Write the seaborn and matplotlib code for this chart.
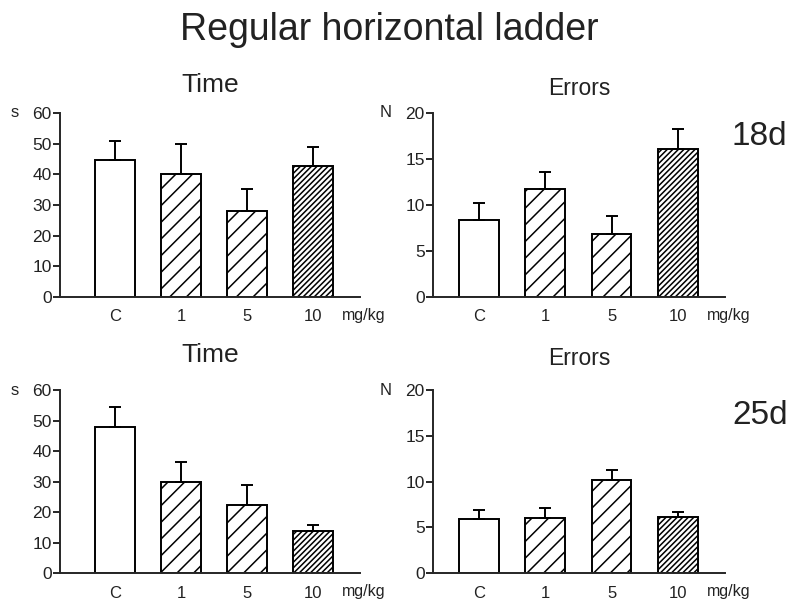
import numpy as np
import pandas as pd
import matplotlib
matplotlib.use("Agg")
import matplotlib.pyplot as plt
import seaborn as sns

# datos
doses = ["C", "1", "5", "10"]
hatches = ["", "//", "//", "//////"]

time_18d = [44.8, 40.0, 28.0, 42.7]
time_18d_sem = [6.2, 9.8, 7.2, 6.1]
errors_18d = [8.4, 11.7, 6.8, 16.1]
errors_18d_sem = [1.8, 1.9, 2.0, 2.2]

time_25d = [48.0, 29.8, 22.4, 13.8]
time_25d_sem = [6.4, 6.6, 6.4, 1.9]
errors_25d = [5.9, 6.0, 10.2, 6.1]
errors_25d_sem = [0.95, 1.1, 1.1, 0.55]

sns.set_style("ticks")
plt.rcParams["font.family"] = ["Liberation Sans", "DejaVu Sans"]
plt.rcParams["hatch.linewidth"] = 1.1
TXT = "#222222"


def plot_panel(ax, means, sems, ymax, step, unit, title, title_size, title_pad, xlim):
    df = pd.DataFrame({"dosis": doses, "valor": means})
    sns.barplot(data=df, x="dosis", y="valor", order=doses, color="white",
                edgecolor="black", linewidth=1.4, width=0.6, saturation=1,
                errorbar=None, ax=ax)
    for patch, h in zip(ax.patches, hatches):
        patch.set_hatch(h)
    ax.errorbar(x=np.arange(len(doses)), y=means,
                yerr=[np.zeros(len(sems)), sems], fmt="none", ecolor="black",
                elinewidth=1.4, capsize=4, capthick=1.4, zorder=1)
    ax.set_ylim(0, ymax)
    ax.set_yticks(np.arange(0, ymax + 1, step))
    ax.set_xlim(*xlim)
    ax.set_xlabel("")
    ax.set_ylabel("")
    sns.despine(ax=ax)
    for s in ["left", "bottom"]:
        ax.spines[s].set_linewidth(1.4)
    ax.tick_params(axis="y", length=5, width=1.4, pad=1, labelsize=12.5, labelcolor=TXT)
    ax.tick_params(axis="x", length=0, pad=9, labelsize=12, labelcolor=TXT)
    ax.set_title(title, fontsize=title_size, pad=title_pad, color=TXT)
    ax.annotate("mg/kg", xy=(1, 0), xycoords="axes fraction", xytext=(-13, -8),
                textcoords="offset points", ha="left", va="top", fontsize=11.5, color=TXT)
    ax.annotate(unit, xy=(0, 1), xycoords="axes fraction", xytext=(-30, 0),
                textcoords="offset points", ha="right", va="center", fontsize=12, color=TXT)


fig = plt.figure(figsize=(7.95, 5.99), dpi=100)
ax_tl = fig.add_axes([0.0755, 0.5042, 0.3774, 0.3072])
ax_tr = fig.add_axes([0.5447, 0.5042, 0.3673, 0.3072])
ax_bl = fig.add_axes([0.0755, 0.0434, 0.3774, 0.3055])
ax_br = fig.add_axes([0.5447, 0.0434, 0.3673, 0.3055])

plot_panel(ax_tl, time_18d, time_18d_sem, 60, 10, "s", "Time", 19, 15, (-0.83, 3.71))
plot_panel(ax_tr, errors_18d, errors_18d_sem, 20, 5, "N", "Errors", 16.5, 13, (-0.69, 3.71))
plot_panel(ax_bl, time_25d, time_25d_sem, 60, 10, "s", "Time", 19, 20, (-0.83, 3.71))
plot_panel(ax_br, errors_25d, errors_25d_sem, 20, 5, "N", "Errors", 16.5, 18, (-0.69, 3.71))

fig.text(389.5 / 795, 1 - 40 / 599, "Regular horizontal ladder", ha="center",
         va="baseline", fontsize=27, color=TXT)
fig.text(732 / 795, 1 - 145 / 599, "18d", ha="left", va="baseline", fontsize=24, color=TXT)
fig.text(732 / 795, 1 - 424 / 599, "25d", ha="left", va="baseline", fontsize=24, color=TXT)

fig.savefig("out.png", dpi=100)
